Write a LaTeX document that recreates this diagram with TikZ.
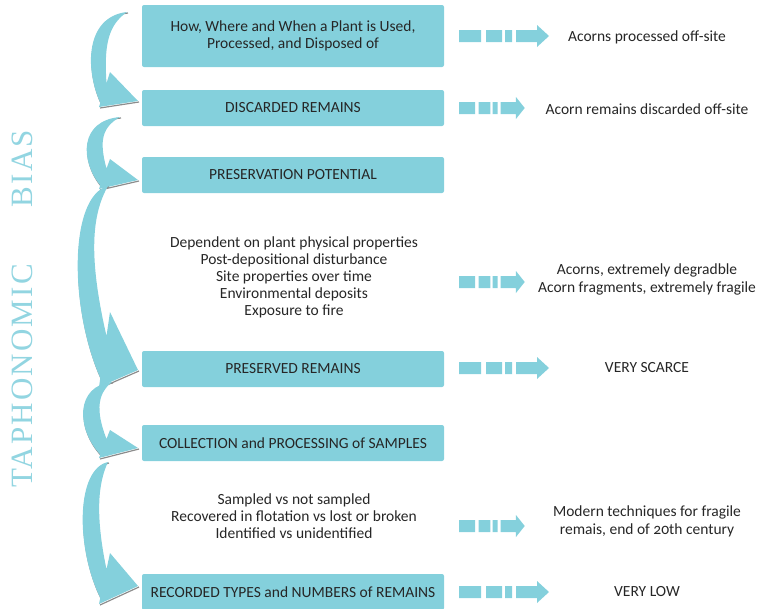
\documentclass[tikz,border=0pt]{standalone}
\usepackage{fontspec}
\setmainfont{Carlito}[Numbers=OldStyle]
\newfontfamily\biasfont[LetterSpace=7]{Liberation Serif}
\usetikzlibrary{positioning}
\definecolor{boxcyan}{HTML}{84D0DC}
\definecolor{biascyan}{HTML}{92D5E1}
\definecolor{inkgrey}{HTML}{262626}
\newcommand\notesize{\fontsize{15.5}{17}\selectfont}
\tikzset{
	stagebox/.style={fill=boxcyan,rounded corners=2pt,minimum width=302pt,minimum height=36pt,
		inner sep=0pt,align=center,text=inkgrey,font=\notesize},
	note/.style={align=center,text=inkgrey,font=\notesize},
	pics/dasharrow/.style={code={
			\fill[boxcyan] (0,-6) rectangle (22,6) (27,-6) rectangle (43,6) (46,-6) rectangle (53,6)
			(57,-6)--(78,-6)--(78,-11)--(90,0)--(78,11)--(78,6)--(57,6)--cycle;}}
}
\begin{document}
\begin{tikzpicture}[x=1pt,y=-1pt]
	\useasboundingbox (0,0) rectangle (757,608);
	% stages
	\node[stagebox,minimum height=62pt] (used) at (293,36) {How, Where and When a Plant is Used,\\Processed, and Disposed of};
	\node[stagebox] (discarded) at (293,108) {DISCARDED REMAINS};
	\node[stagebox] (potential) at (293,175) {PRESERVATION POTENTIAL};
	\node[note] (factors) at (294,277) {Dependent on plant physical properties\\Post-depositional disturbance\\Site properties over time\\Environmental deposits\\Exposure to fire};
	\node[stagebox] (preserved) at (293,369) {PRESERVED REMAINS};
	\node[stagebox] (collection) at (293,443) {COLLECTION and PROCESSING of SAMPLES};
	\node[note] (sampling) at (294,516) {Sampled vs not sampled\\Recovered in flotation vs lost or broken\\Identified vs unidentified};
	\node[stagebox] (recorded) at (293,592) {RECORDED TYPES and NUMBERS of REMAINS};
	% acorn notes
	\node[note] (offsite) at (647,37) {Acorns processed off-site};
	\node[note] (remains) at (647,109) {Acorn remains discarded off-site};
	\node[note,font=\fontsize{15.5}{18}\selectfont] (degradable) at (647,279) {Acorns, extremely degradble\\Acorn fragments, extremely fragile};
	\node[note] (scarce) at (647,368) {VERY SCARCE};
	\node[note,font=\fontsize{15.5}{18}\selectfont] (modern) at (647,521) {Modern techniques for fragile\\remais, end of 20th century};
	\node[note] (verylow) at (647,592) {VERY LOW};
	% dashed arrows
	\foreach \y/\s in {36/1, 108/0.73, 282/0.73, 368/1, 526/0.73, 592/1}
		\pic[xscale=\s] at (459,\y) {dasharrow};
	% curved arrows
	\foreach \tx/\ty/\lx/\by/\hh/\hy in {127/12/90/107/35/101, 120/117/86/189/30/180,
		108/186/78/387/75/370, 112/382/83/458/28/448, 108/462/83/604/51/586}{
		\pgfmathsetmacro\cx{1.333*\lx-35}
		\pgfmathsetmacro\len{\by-\ty}
		\pgfmathsetmacro\poy{\by-0.12*\hh}
		\pgfmathsetmacro\piy{\by-0.68*\hh}
		\draw[black!45,line width=1.2pt,shift={(1,1)}] (\tx,\ty) .. controls (\cx,\ty+0.05*\len) and (\cx,\poy-0.35*\len) .. (100.3,\poy)
			(99,\by) -- (138,\hy);
		\fill[boxcyan] (\tx,\ty) .. controls (\cx,\ty+0.05*\len) and (\cx,\poy-0.35*\len) .. (100.3,\poy)
			-- (99,\by) -- (138,\hy) -- (110,\by-\hh) -- (106.5,\piy)
			.. controls (\cx+19,\piy-0.4*\len) and (\cx+23,\ty+0.14*\len) .. (\tx,\ty) -- cycle;
	}
	\node[rotate=90,text=biascyan,font=\biasfont\fontsize{31}{31}\selectfont] (bias) at (22,309) {TAPHONOMIC\hspace{57pt}BIAS};
\end{tikzpicture}
\end{document}
